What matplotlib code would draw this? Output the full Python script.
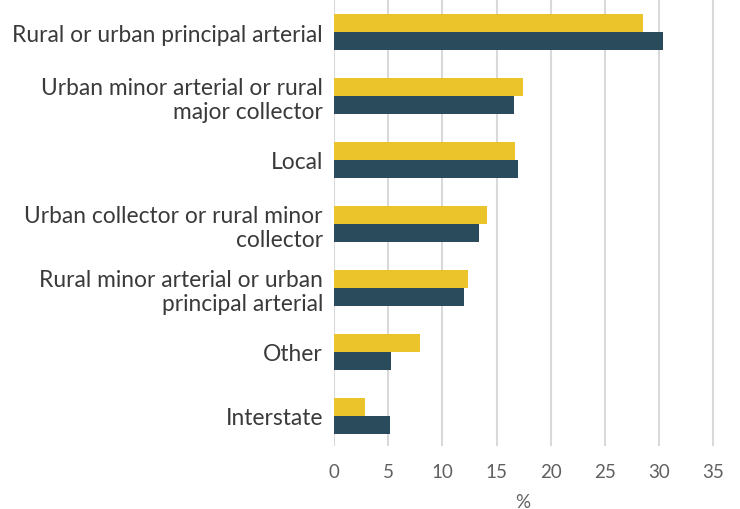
import matplotlib
matplotlib.use("Agg")
import matplotlib.pyplot as plt
import numpy as np

categories = [
    "Rural or urban principal arterial",
    "Urban minor arterial or rural\nmajor collector",
    "Local",
    "Urban collector or rural minor\ncollector",
    "Rural minor arterial or urban\nprincipal arterial",
    "Other",
    "Interstate",
]
series_a = [28.5, 17.4, 16.7, 14.1, 12.4, 7.9, 2.9]   # yellow (top bar)
series_b = [30.4, 16.6, 17.0, 13.4, 12.0, 5.3, 5.2]   # dark teal (bottom bar)
x_ticks = [0, 5, 10, 15, 20, 25, 30, 35]

plt.rcParams["font.family"] = ["Lato", "DejaVu Sans"]

fig = plt.figure(figsize=(7.4, 5.1), dpi=100)
ax = fig.add_axes([334 / 740, 1 - 447 / 510, (740 - 334) / 740, 447 / 510])

y = np.arange(len(categories))
h = 0.28
ax.barh(y - h / 2, series_a, height=h, color="#EBC42B", zorder=3)
ax.barh(y + h / 2, series_b, height=h, color="#2A4B5B", zorder=3)

ax.set_xlim(0, 35 * 406 / 379.3)
ax.set_ylim(6.47, -0.516)
ax.set_xticks(x_ticks)
ax.set_xticklabels([str(t) for t in x_ticks], fontsize=13.5, color="#606060")
ax.set_yticks(y)
ax.set_yticklabels(categories, fontsize=16.4, color="#3a3a3a", linespacing=1.2)
ax.tick_params(axis="both", length=0)
ax.tick_params(axis="x", pad=12)
ax.tick_params(axis="y", pad=8)
ax.grid(axis="x", color="#D9D9D9", linewidth=1.5, zorder=0)
for s in ax.spines.values():
    s.set_visible(False)
ax.set_xlabel("%", fontsize=13.5, color="#606060")
ax.xaxis.set_label_coords((523 - 334) / 406, -47 / 447)

fig.savefig("out.png", dpi=100)
